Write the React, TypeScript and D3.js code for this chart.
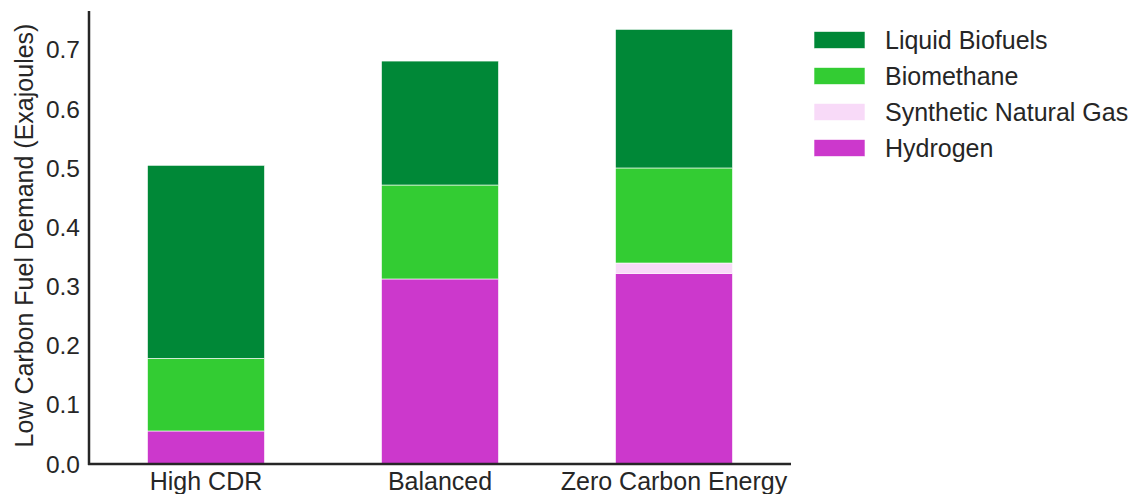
import React from "react";
import * as d3 from "d3";

const categories = ["High CDR", "Balanced", "Zero Carbon Energy"];
const hydrogen = [0.0558, 0.3127, 0.3222];
const syntheticNaturalGas = [0, 0, 0.0175];
const biomethane = [0.1228, 0.1588, 0.1606];
const liquidBiofuels = [0.3262, 0.2095, 0.2343];
const yTicks = [0, 0.1, 0.2, 0.3, 0.4, 0.5, 0.6, 0.7];

const seriesNames = ["Hydrogen", "Synthetic Natural Gas", "Biomethane", "Liquid Biofuels"];
const seriesColors = ["#CC38CC", "#F8DAF8", "#33CC33", "#008837"];
const legendOrder = ["Liquid Biofuels", "Biomethane", "Synthetic Natural Gas", "Hydrogen"];

const W = 1132;
const H = 494;
const FONT = "'Liberation Sans', Arial, sans-serif";
const TXT = "#262626";

export default function App() {
  const x = d3.scaleLinear().domain([-0.5, 2.5]).range([89, 791]);
  const y = d3.scaleLinear().domain([0, 0.7656]).range([464, 11]);
  const barW = x(0.5) - x(0);

  const table = categories.map((c, i) => ({
    cat: c,
    Hydrogen: hydrogen[i],
    "Synthetic Natural Gas": syntheticNaturalGas[i],
    Biomethane: biomethane[i],
    "Liquid Biofuels": liquidBiofuels[i],
  }));
  const stack = d3.stack<any>().keys(seriesNames)(table);
  const color = d3.scaleOrdinal<string, string>().domain(seriesNames).range(seriesColors);

  return (
    <svg width={W} height={H} style={{ position: "absolute", left: 0, top: 0, background: "#fff" }} fontFamily={FONT}>
      {stack.map((layer) => (
        <g key={layer.key} fill={color(layer.key)}>
          {layer.map((d, i) =>
            d[1] - d[0] > 0 ? (
              <rect
                key={i}
                x={x(i) - barW / 2}
                y={y(d[1])}
                width={barW}
                height={y(d[0]) - y(d[1])}
                stroke="#ffffff"
                strokeWidth={0.6}
              />
            ) : null
          )}
        </g>
      ))}
      {/* axes */}
      <line x1={89} x2={89} y1={y.range()[1]} y2={465} stroke={TXT} strokeWidth={2.5} />
      <line x1={88} x2={791} y1={464} y2={464} stroke={TXT} strokeWidth={2.5} />
      {yTicks.map((t) => (
        <text key={t} x={80} y={y(t)} dy="0.35em" textAnchor="end" fontSize={24.5} fill={TXT}>
          {d3.format(".1f")(t)}
        </text>
      ))}
      {categories.map((c, i) => (
        <text key={c} x={x(i)} y={489.5} textAnchor="middle" fontSize={25} fill={TXT}>
          {c}
        </text>
      ))}
      <text
        transform={`translate(33,${235.5}) rotate(-90)`}
        textAnchor="middle"
        fontSize={25}
        fill={TXT}
      >
        Low Carbon Fuel Demand (Exajoules)
      </text>
      {/* legend */}
      {legendOrder.map((name, i) => (
        <g key={name} transform={`translate(814,${40 + i * 36})`}>
          <rect x={0} y={-8.5} width={51} height={17} fill={color(name)} stroke="#ffffff" strokeWidth={0.6} />
          <text x={71} y={0} dy="0.35em" fontSize={25} fill={TXT}>
            {name}
          </text>
        </g>
      ))}
    </svg>
  );
}
